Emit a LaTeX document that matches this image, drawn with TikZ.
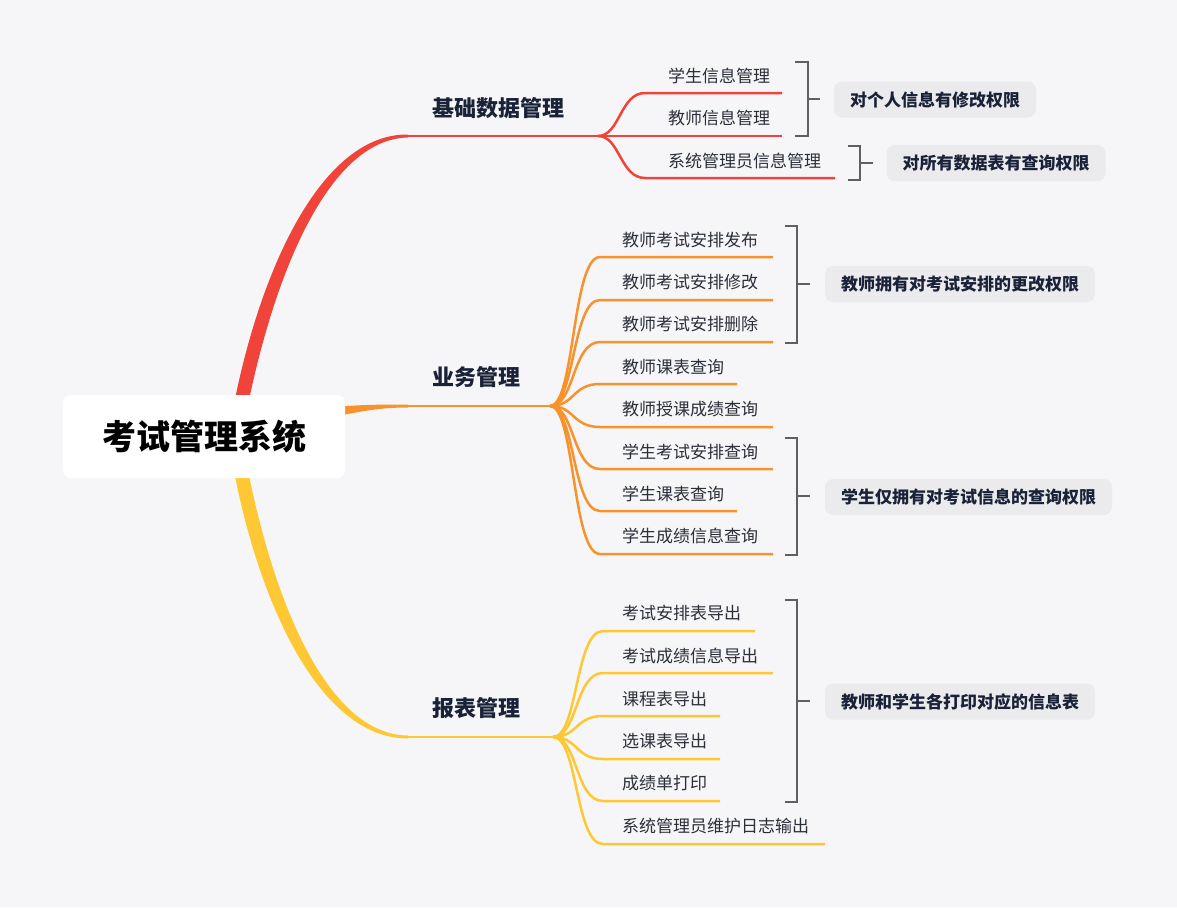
\documentclass[tikz,border=0pt]{standalone}
\usepackage{fontspec}
\setmainfont{Noto Sans CJK SC}
\definecolor{bgc}{RGB}{246,246,248}
\definecolor{redc}{RGB}{240,68,58}
\definecolor{orangec}{RGB}{247,146,45}
\definecolor{yellowc}{RGB}{253,200,51}
\definecolor{notec}{RGB}{235,235,237}
\definecolor{brackc}{RGB}{95,95,95}
\definecolor{leaftxt}{RGB}{43,47,58}
\definecolor{navytxt}{RGB}{26,34,56}
\tikzset{
  leaf/.style={anchor=west,inner sep=0pt,text=leaftxt,font=\fontsize{17}{20}\selectfont},
  branchlbl/.style={anchor=west,inner sep=0pt,text=navytxt,font=\fontsize{22}{26}\selectfont\bfseries},
  note/.style={fill=notec,rounded corners=8pt,inner xsep=16pt,minimum height=36pt,text=navytxt,font=\fontsize{17}{20}\selectfont\bfseries},
  bracket/.style={draw=brackc,line width=2.2pt},
  leafline/.style={line width=2.5pt},
}
\begin{document}
\begin{tikzpicture}[x=1pt,y=-1pt]
  \useasboundingbox (0,0) rectangle (1177,907);
  \fill[bgc] (0,0) rectangle (1177,907);

  % trunks
  \fill[redc] (231,420) .. controls (256,280) and (318,133.5) .. (408,134.5) -- (408,137.5) .. controls (326,139) and (271,283) .. (245,420) -- cycle;
  \fill[orangec] (320,408) .. controls (360,404.5) and (380,404.5) .. (408,404.5) -- (408,407.5) .. controls (380,407.5) and (360,411) .. (320,420) -- cycle;
  \fill[yellowc] (231,455) .. controls (256,598) and (318,738.5) .. (408,738.5) -- (408,735.5) .. controls (326,735) and (271,596) .. (245,455) -- cycle;

  \node[fill=white,rounded corners=8pt,minimum width=282pt,minimum height=83pt,font=\fontsize{34}{40}\selectfont\bfseries] (root) at (204,436.5) {考试管理系统};

  % 基础数据管理
  \coordinate (rb) at (408,136); \coordinate (rf) at (598,136);
  \node[branchlbl] (base) at (432,108) {基础数据管理};
  \draw[redc,line width=2.5pt] (rb) -- (rf);
  \node[leaf] (r1) at (668,76) {学生信息管理};
  \node[leaf] (r2) at (668,118) {教师信息管理};
  \node[leaf] (r3) at (668,161) {系统管理员信息管理};
  \draw[redc,leafline] (rf) .. controls (620,136) and (620,93) .. (645,93) -- (782,93);
  \draw[redc,leafline] (rf) -- (782,136);
  \draw[redc,leafline] (rf) .. controls (620,136) and (620,178) .. (645,178) -- (835,178);

  \draw[bracket] (795,62) -- (808,62) -- (808,136) -- (795,136);
  \draw[bracket] (808,99) -- (820,99);
  \node[note] (n1) at (935,99.5) {对个人信息有修改权限};
  \draw[bracket] (848,146) -- (860,146) -- (860,180) -- (848,180);
  \draw[bracket] (860,163) -- (873,163);
  \node[note] (n2) at (996,163) {对所有数据表有查询权限};

  % 业务管理
  \coordinate (ob) at (408,406); \coordinate (of) at (550,406);
  \node[branchlbl] (biz) at (432,377) {业务管理};
  \draw[orangec,line width=2.5pt] (ob) -- (of);
  \node[leaf] (o1) at (622,240) {教师考试安排发布};
  \node[leaf] (o2) at (622,282) {教师考试安排修改};
  \node[leaf] (o3) at (622,324) {教师考试安排删除};
  \node[leaf] (o4) at (622,367) {教师课表查询};
  \node[leaf] (o5) at (622,409) {教师授课成绩查询};
  \node[leaf] (o6) at (622,452) {学生考试安排查询};
  \node[leaf] (o7) at (622,494) {学生课表查询};
  \node[leaf] (o8) at (622,536) {学生成绩信息查询};
  \draw[orangec,leafline] (of) .. controls (575,406) and (572,257) .. (600,257) -- (773,257);
  \draw[orangec,leafline] (of) .. controls (575,406) and (572,300) .. (600,300) -- (773,300);
  \draw[orangec,leafline] (of) .. controls (575,406) and (572,342) .. (600,342) -- (773,342);
  \draw[orangec,leafline] (of) .. controls (575,406) and (572,384) .. (600,384) -- (737,384);
  \draw[orangec,leafline] (of) .. controls (575,406) and (572,427) .. (600,427) -- (773,427);
  \draw[orangec,leafline] (of) .. controls (575,406) and (572,469) .. (600,469) -- (773,469);
  \draw[orangec,leafline] (of) .. controls (575,406) and (572,511) .. (600,511) -- (737,511);
  \draw[orangec,leafline] (of) .. controls (575,406) and (572,554) .. (600,554) -- (773,554);

  \draw[bracket] (785,226) -- (797,226) -- (797,343) -- (785,343);
  \draw[bracket] (797,284) -- (810,284);
  \node[note] (n3) at (960,284) {教师拥有对考试安排的更改权限};
  \draw[bracket] (785,438) -- (797,438) -- (797,555) -- (785,555);
  \draw[bracket] (797,496) -- (810,496);
  \node[note] (n4) at (968.5,497) {学生仅拥有对考试信息的查询权限};

  % 报表管理
  \coordinate (yb) at (408,737); \coordinate (yf) at (553,737);
  \node[branchlbl] (rep) at (432,708) {报表管理};
  \draw[yellowc,line width=2.5pt] (yb) -- (yf);
  \node[leaf] (y1) at (622,613) {考试安排表导出};
  \node[leaf] (y2) at (622,656) {考试成绩信息导出};
  \node[leaf] (y3) at (622,699) {课程表导出};
  \node[leaf] (y4) at (622,741) {选课表导出};
  \node[leaf] (y5) at (622,783) {成绩单打印};
  \node[leaf] (y6) at (622,826) {系统管理员维护日志输出};
  \draw[yellowc,leafline] (yf) .. controls (578,737) and (575,631) .. (603,631) -- (755,631);
  \draw[yellowc,leafline] (yf) .. controls (578,737) and (575,673) .. (603,673) -- (773,673);
  \draw[yellowc,leafline] (yf) .. controls (578,737) and (575,716) .. (603,716) -- (720,716);
  \draw[yellowc,leafline] (yf) .. controls (578,737) and (575,759) .. (603,759) -- (720,759);
  \draw[yellowc,leafline] (yf) .. controls (578,737) and (575,801) .. (603,801) -- (720,801);
  \draw[yellowc,leafline] (yf) .. controls (578,737) and (575,844) .. (603,844) -- (825,844);

  \draw[bracket] (785,600) -- (797,600) -- (797,802) -- (785,802);
  \draw[bracket] (797,701) -- (810,701);
  \node[note] (n5) at (960,701.5) {教师和学生各打印对应的信息表};
\end{tikzpicture}
\end{document}
